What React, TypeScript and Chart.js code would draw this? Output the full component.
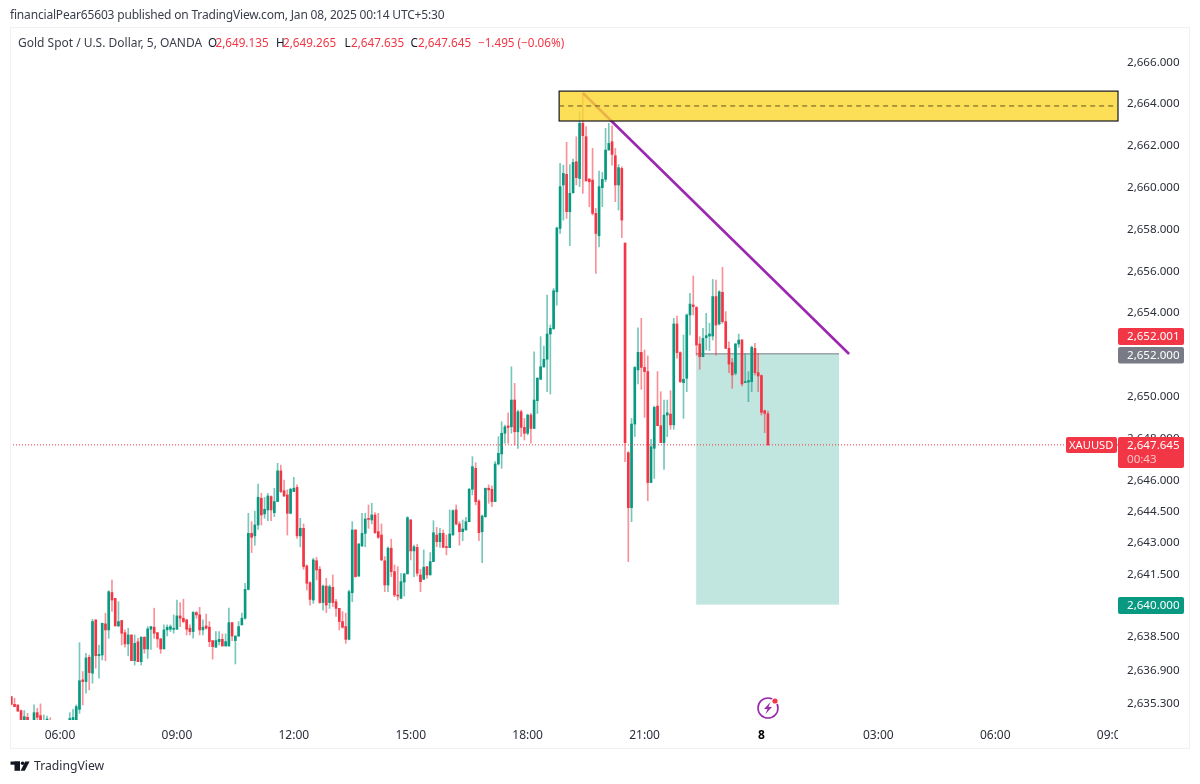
import React, { useEffect, useRef } from "react";
import { Chart, registerables } from "chart.js";

Chart.register(...registerables);

const FONT = '"Noto Sans", sans-serif';
const firstIndex = -15;
const timeTicks = [0, 36, 72, 108, 144, 180, 216, 252, 288, 324];
const timeLabels = ["06:00", "09:00", "12:00", "15:00", "18:00", "21:00", "8", "03:00", "06:00", "09:00"];
const priceTicks = [2666, 2664, 2662, 2660, 2658, 2656, 2654, 2652, 2650, 2648, 2646, 2644.5, 2643, 2641.5, 2640, 2638.5, 2636.9, 2635.3];

const opens = [
  2635.60,2635.23,2635.20,2634.93,2634.35,2634.61,2634.35,2634.40,2634.83,2634.69,
  2634.35,2634.38,2634.45,2634.30,2634.20,2634.25,2634.30,2634.35,2634.40,2634.45,
  2634.40,2634.99,2636.40,2636.32,2637.48,2636.72,2639.27,2637.56,2637.59,2639.08,
  2638.79,2640.58,2640.30,2638.98,2639.24,2638.66,2638.12,2638.55,2637.32,2638.22,
  2637.27,2638.44,2637.88,2638.82,2638.92,2638.66,2638.36,2637.88,2638.79,2638.82,
  2638.82,2638.82,2639.46,2639.35,2639.27,2638.87,2638.71,2639.62,2639.51,2638.79,
  2638.98,2638.92,2638.28,2637.96,2638.23,2638.34,2638.02,2638.02,2639.14,2638.28,
  2638.50,2639.03,2639.35,2640.73,2643.41,2643.29,2643.81,2645.09,2644.34,2644.53,
  2645.17,2644.40,2644.93,2646.40,2645.45,2645.25,2644.37,2645.41,2645.61,2643.29,
  2643.65,2641.85,2641.05,2640.22,2642.10,2641.69,2640.10,2640.89,2640.10,2640.83,
  2640.14,2639.82,2639.19,2638.95,2638.34,2640.57,2643.57,2641.37,2642.81,2643.41,
  2644.13,2644.05,2644.29,2643.49,2643.33,2642.10,2640.94,2642.70,2641.58,2640.46,
  2640.30,2641.08,2641.47,2644.05,2642.57,2642.74,2641.42,2641.21,2641.82,2641.42,
  2642.06,2643.33,2643.01,2643.41,2642.77,2642.73,2643.33,2644.53,2643.86,2643.49,
  2643.57,2643.97,2645.52,2646.52,2644.96,2643.49,2644.21,2645.57,2645.52,2644.93,
  2646.73,2647.21,2648.20,2648.55,2648.51,2649.79,2648.27,2649.23,2648.48,2648.20,
  2649.07,2648.43,2649.76,2650.78,2651.38,2651.74,2652.95,2653.20,2654.97,2658.00,
  2660.08,2660.59,2658.80,2659.71,2661.19,2660.39,2663.03,2662.39,2660.36,2660.31,
  2658.72,2657.65,2659.95,2660.35,2661.75,2662.15,2661.48,2660.08,2660.87,2657.30,
  2647.27,2644.64,2648.64,2651.23,2652.07,2651.35,2651.15,2645.84,2647.48,2649.50,
  2648.56,2647.75,2649.07,2649.12,2648.60,2653.43,2652.06,2650.62,2650.83,2653.86,
  2654.34,2654.22,2652.47,2651.86,2652.77,2652.85,2652.85,2654.74,2653.43,2654.94,
  2653.54,2652.26,2651.58,2651.07,2652.47,2652.66,2650.62,2650.65,2650.67,2652.26,
  2651.10,2650.96,2649.28,2649.135,
];
const highs = [
  2635.60,2635.52,2635.20,2634.96,2634.93,2634.80,2634.42,2635.20,2635.04,2635.25,
  2634.72,2634.67,2634.59,2634.42,2634.38,2634.40,2634.44,2634.46,2634.83,2634.99,
  2635.20,2638.18,2636.80,2637.67,2637.59,2639.30,2639.27,2638.07,2639.11,2639.59,
  2640.67,2641.18,2640.30,2640.14,2639.24,2638.79,2638.87,2638.55,2638.55,2638.39,
  2638.47,2638.47,2638.95,2638.95,2639.83,2638.66,2638.39,2639.03,2639.03,2639.03,
  2639.51,2640.22,2640.10,2640.26,2639.30,2639.03,2639.67,2639.67,2639.87,2639.27,
  2639.55,2639.19,2638.28,2638.71,2638.71,2638.60,2638.60,2639.83,2639.14,2638.50,
  2639.19,2639.59,2641.02,2644.37,2643.97,2644.48,2645.77,2645.33,2645.13,2645.33,
  2645.20,2645.57,2646.76,2646.68,2645.96,2645.49,2645.57,2646.09,2645.73,2644.13,
  2643.86,2641.90,2641.10,2642.22,2642.26,2641.82,2640.94,2641.26,2640.94,2641.42,
  2640.25,2639.82,2639.67,2639.59,2640.70,2643.97,2643.60,2642.93,2644.37,2644.37,
  2644.77,2644.85,2644.40,2644.37,2643.86,2642.30,2642.77,2643.13,2641.90,2641.82,
  2641.50,2641.50,2644.21,2644.08,2642.85,2642.89,2641.69,2642.62,2641.82,2642.49,
  2644.02,2643.70,2643.65,2643.57,2643.33,2644.53,2644.53,2644.77,2643.97,2644.05,
  2644.18,2645.57,2647.08,2646.79,2645.01,2644.29,2645.57,2645.73,2645.68,2646.84,
  2648.04,2648.75,2648.59,2649.18,2651.38,2650.59,2649.31,2649.31,2648.91,2649.12,
  2649.15,2652.10,2650.87,2652.82,2652.37,2654.81,2653.38,2655.13,2658.06,2661.11,
  2661.03,2662.12,2661.06,2661.32,2662.39,2663.58,2664.46,2662.87,2660.39,2661.83,
  2658.96,2660.75,2660.68,2662.79,2663.03,2662.91,2661.83,2661.06,2660.95,2657.30,
  2647.32,2648.91,2651.39,2653.25,2653.70,2652.18,2651.90,2647.91,2649.50,2651.15,
  2650.19,2649.79,2649.79,2650.24,2653.70,2653.81,2652.10,2652.90,2653.91,2654.90,
  2655.72,2654.26,2652.82,2653.22,2653.94,2653.46,2655.56,2655.53,2655.02,2656.14,
  2654.02,2652.58,2651.78,2652.50,2652.95,2652.69,2652.00,2651.15,2652.38,2652.50,
  2652.02,2650.99,2649.31,2649.265,
];
const lows = [
  2635.20,2635.12,2634.88,2634.30,2634.25,2634.30,2634.10,2634.30,2634.40,2634.30,
  2634.25,2634.20,2634.20,2634.00,2634.00,2634.05,2634.10,2634.15,2634.30,2634.30,
  2634.30,2634.80,2635.20,2635.76,2635.92,2636.24,2636.96,2636.48,2637.35,2637.32,
  2638.39,2639.67,2638.98,2638.95,2638.07,2637.96,2637.55,2637.32,2637.11,2637.27,
  2637.11,2637.67,2637.43,2637.86,2638.39,2637.96,2637.67,2637.88,2638.50,2638.71,
  2638.63,2638.82,2638.95,2639.14,2638.55,2638.55,2638.39,2639.35,2638.55,2638.55,
  2638.82,2637.99,2637.39,2637.96,2638.07,2638.02,2638.02,2638.02,2638.28,2637.16,
  2638.47,2639.03,2639.30,2640.70,2642.49,2642.85,2643.60,2643.81,2644.13,2644.02,
  2644.02,2644.21,2644.93,2645.36,2645.17,2643.33,2644.34,2645.41,2643.17,2642.77,
  2641.69,2640.70,2639.98,2640.06,2641.18,2640.06,2639.74,2639.62,2639.82,2639.90,
  2639.43,2638.79,2638.87,2638.15,2638.31,2640.14,2641.31,2641.34,2642.77,2642.77,
  2643.65,2643.86,2643.41,2643.17,2642.10,2640.62,2640.62,2641.34,2640.38,2640.22,
  2640.30,2640.41,2641.47,2642.14,2641.34,2641.37,2640.62,2641.21,2641.26,2641.42,
  2642.06,2642.77,2642.74,2642.74,2642.38,2642.73,2643.33,2643.81,2642.85,2643.06,
  2643.57,2643.97,2645.25,2644.77,2643.06,2642.01,2644.18,2644.85,2644.69,2644.93,
  2646.68,2646.52,2647.72,2647.72,2648.20,2647.64,2647.48,2648.04,2647.88,2648.12,
  2647.72,2648.43,2649.15,2650.78,2651.35,2650.19,2650.08,2653.17,2654.33,2657.76,
  2658.40,2658.48,2657.17,2659.68,2660.08,2660.00,2659.68,2660.27,2659.04,2658.64,
  2655.85,2657.12,2659.04,2660.23,2661.75,2661.03,2659.28,2658.88,2657.56,2646.84,
  2642.06,2643.97,2648.04,2650.56,2650.30,2648.96,2644.97,2645.84,2646.04,2648.56,
  2647.75,2646.47,2648.04,2648.39,2648.39,2651.79,2650.62,2648.91,2650.19,2652.90,
  2653.86,2651.94,2651.26,2651.86,2652.18,2652.15,2652.66,2651.94,2653.38,2653.46,
  2652.26,2651.10,2650.35,2650.99,2652.31,2650.46,2650.62,2649.71,2650.19,2650.99,
  2650.19,2649.07,2648.23,2647.635,
];
const closes = [
  2635.23,2635.12,2634.91,2634.40,2634.64,2634.40,2634.25,2634.83,2634.61,2634.40,
  2634.45,2634.42,2634.35,2634.20,2634.25,2634.30,2634.35,2634.30,2634.55,2634.60,
  2635.12,2636.36,2636.32,2637.45,2636.75,2639.19,2637.56,2637.62,2639.11,2638.79,
  2640.62,2640.22,2638.98,2639.19,2638.63,2638.12,2638.55,2637.32,2638.15,2637.27,
  2638.44,2637.88,2638.84,2638.95,2638.63,2638.36,2637.88,2638.79,2638.92,2638.95,
  2638.87,2639.46,2639.35,2639.19,2638.82,2638.71,2639.63,2639.51,2638.79,2638.92,
  2638.87,2638.23,2637.99,2638.28,2638.34,2638.02,2638.23,2639.14,2638.50,2638.50,
  2638.95,2639.35,2640.73,2643.41,2643.22,2643.81,2645.14,2644.29,2644.56,2645.20,
  2644.53,2644.93,2646.40,2645.41,2645.20,2644.37,2645.52,2645.57,2643.29,2643.65,
  2641.82,2641.02,2640.25,2642.14,2641.66,2640.10,2640.89,2639.98,2640.86,2640.10,
  2639.82,2639.19,2638.92,2638.34,2640.62,2643.57,2641.34,2642.90,2643.41,2644.10,
  2644.08,2644.29,2643.44,2643.22,2642.14,2640.94,2642.70,2641.58,2640.46,2640.41,
  2641.10,2641.47,2644.16,2642.57,2642.77,2641.50,2641.10,2641.79,2641.42,2642.06,
  2643.44,2643.01,2643.41,2642.74,2642.73,2643.38,2644.50,2643.86,2643.49,2643.62,
  2643.97,2645.52,2646.60,2644.93,2643.44,2644.24,2645.57,2645.49,2644.93,2646.73,
  2647.24,2648.20,2648.51,2648.48,2649.79,2648.27,2649.23,2648.48,2648.20,2649.07,
  2648.43,2649.79,2650.83,2651.38,2651.74,2652.95,2653.22,2655.02,2658.02,2660.00,
  2660.63,2658.80,2659.68,2661.16,2660.43,2663.03,2662.44,2660.27,2660.23,2658.72,
  2657.76,2660.00,2660.35,2661.75,2662.07,2661.54,2660.08,2660.91,2658.40,2647.75,
  2644.64,2648.64,2651.35,2652.07,2651.35,2651.15,2645.84,2647.56,2649.44,2648.56,
  2647.75,2649.07,2649.18,2648.60,2653.43,2652.06,2650.67,2650.78,2653.86,2654.38,
  2654.26,2652.42,2651.86,2652.74,2652.87,2652.95,2654.74,2653.38,2654.97,2653.54,
  2652.26,2651.51,2650.99,2652.47,2652.66,2650.56,2650.67,2650.72,2652.31,2651.10,
  2650.94,2649.20,2649.15,2647.645,
];

const trendX = [161, 243];
const trendY = [2664.48, 2651.99];
const zoneLeft = 153.7;
const zoneTop = 2664.57;
const zoneBottom = 2663.14;
const zoneMid = 2663.86;
const targetLeft = 195.9;
const targetRight = 239.9;
const entryPrice = 2652;
const targetPrice = 2640;
const lastPrice = 2647.645;

const RED = "#f23645";
const GREEN = "#089981";
const INK = "#131722";

const fmt = (v: number) =>
  v.toLocaleString("en-US", { minimumFractionDigits: 3, maximumFractionDigits: 3 });

function badge(ctx: any, x: number, y: number, w: number, h: number, fill: string) {
  ctx.fillStyle = fill;
  ctx.beginPath();
  ctx.roundRect(x, y, w, h, 2);
  ctx.fill();
}

const artwork = {
  id: "artwork",
  beforeDatasetsDraw(chart: any) {
    const { ctx, scales } = chart;
    const { x, y } = scales;
    ctx.save();
    const l = x.getPixelForValue(targetLeft);
    const r = x.getPixelForValue(targetRight);
    const t = y.getPixelForValue(entryPrice);
    const b = y.getPixelForValue(targetPrice);
    ctx.fillStyle = "rgba(8,153,129,0.25)";
    ctx.fillRect(l, t, r - l, b - t);
    ctx.strokeStyle = "#787b86";
    ctx.lineWidth = 1;
    ctx.beginPath();
    ctx.moveTo(l, t);
    ctx.lineTo(r, t);
    ctx.stroke();
    ctx.restore();
  },
  afterDatasetsDraw(chart: any) {
    const { ctx, scales, chartArea } = chart;
    const { x, y } = scales;
    ctx.save();
    const l = x.getPixelForValue(zoneLeft);
    const r = chartArea.right;
    const t = y.getPixelForValue(zoneTop);
    const b = y.getPixelForValue(zoneBottom);
    const m = y.getPixelForValue(zoneMid);
    ctx.fillStyle = "rgba(253,215,45,0.8)";
    ctx.fillRect(l, t, r - l, b - t);
    ctx.strokeStyle = "#131722";
    ctx.lineWidth = 1.2;
    ctx.strokeRect(l, t, r - l, b - t);
    ctx.lineWidth = 1;
    ctx.setLineDash([5, 4]);
    ctx.strokeStyle = "#5d5326";
    ctx.beginPath();
    ctx.moveTo(l, m);
    ctx.lineTo(r, m);
    ctx.stroke();
    const p = y.getPixelForValue(lastPrice);
    ctx.setLineDash([1, 2]);
    ctx.strokeStyle = RED;
    ctx.beginPath();
    ctx.moveTo(chartArea.left, p);
    ctx.lineTo(r, p);
    ctx.stroke();
    ctx.restore();
  },
  afterDraw(chart: any) {
    const { ctx, chartArea } = chart;
    ctx.save();
    // clip the last time label at the price axis
    ctx.fillStyle = "#ffffff";
    ctx.fillRect(chartArea.right, 724, 60, 20);

    ctx.strokeStyle = "#f0f1f5";
    ctx.lineWidth = 1;
    ctx.strokeRect(10.5, 27.5, 1179, 721);

    ctx.textBaseline = "middle";
    ctx.textAlign = "left";
    ctx.font = `12px ${FONT}`;
    ctx.fillStyle = "#3a3e4b";
    ctx.letterSpacing = "-0.18px";
    ctx.fillText("financialPear65603 published on TradingView.com, Jan 08, 2025 00:14 UTC+5:30", 10, 16);
    ctx.letterSpacing = "0px";

    ctx.fillStyle = "#3a3e4b";
    ctx.fillText("Gold Spot / U.S. Dollar, 5, OANDA", 18, 44);
    const legend: [string, number, string][] = [
      ["O", 208, INK], ["2,649.135", 215.5, RED],
      ["H", 276, INK], ["2,649.265", 283, RED],
      ["L", 344.5, INK], ["2,647.635", 351, RED],
      ["C", 410.5, INK], ["2,647.645", 418, RED],
      ["\u22121.495 (\u22120.06%)", 478, RED],
    ];
    ctx.font = `11.7px ${FONT}`;
    legend.forEach(([s, px, c]) => {
      ctx.fillStyle = c;
      ctx.fillText(s, px, 44);
    });

    const boxX = 1118;
    const boxW = 66;
    badge(ctx, boxX, 328, boxW, 17, RED);
    badge(ctx, boxX, 347, boxW, 16.5, "#787b86");
    badge(ctx, boxX, 597, boxW, 17, GREEN);
    badge(ctx, boxX, 437, boxW, 31, RED);
    badge(ctx, 1066, 437, 51, 16, RED);
    ctx.fillStyle = "#ffffff";
    ctx.font = `11.6px ${FONT}`;
    ctx.fillText(fmt(2652.001), 1127, 337);
    ctx.fillText(fmt(2652.0), 1127, 355.5);
    ctx.fillText(fmt(2640.0), 1127, 606);
    ctx.fillText(fmt(lastPrice), 1127, 445.5);
    ctx.font = `11.2px ${FONT}`;
    ctx.fillText("XAUUSD", 1069, 445.5);
    ctx.font = `11.6px ${FONT}`;
    ctx.fillStyle = "rgba(255,255,255,0.7)";
    ctx.fillText("00:43", 1127, 459.5);

    // energy badge
    ctx.strokeStyle = "#9c27b0";
    ctx.lineWidth = 1.6;
    ctx.beginPath();
    ctx.arc(768, 708, 10, 0, Math.PI * 2);
    ctx.stroke();
    ctx.fillStyle = "#9c27b0";
    ctx.beginPath();
    ctx.moveTo(770.5, 702);
    ctx.lineTo(764, 709);
    ctx.lineTo(767.5, 709);
    ctx.lineTo(765.5, 714);
    ctx.lineTo(772, 707);
    ctx.lineTo(768.5, 707);
    ctx.closePath();
    ctx.fill();
    ctx.fillStyle = "#ffffff";
    ctx.beginPath();
    ctx.arc(775, 701, 3.6, 0, Math.PI * 2);
    ctx.fill();
    ctx.fillStyle = RED;
    ctx.beginPath();
    ctx.arc(775, 701, 2.6, 0, Math.PI * 2);
    ctx.fill();

    // footer brand
    ctx.fillStyle = INK;
    ctx.fillRect(10.5, 761.5, 9.5, 3.2);
    ctx.fillRect(14.5, 761.5, 5.5, 9.3);
    ctx.beginPath();
    ctx.arc(22.6, 763.3, 1.8, 0, Math.PI * 2);
    ctx.fill();
    ctx.beginPath();
    ctx.moveTo(25.2, 761.5);
    ctx.lineTo(29.6, 761.5);
    ctx.lineTo(24.8, 770.8);
    ctx.lineTo(20.6, 770.8);
    ctx.closePath();
    ctx.fill();
    ctx.fillStyle = "#2a2e39";
    ctx.font = `12.2px ${FONT}`;
    ctx.fillText("TradingView", 34, 767);
    ctx.restore();
  },
};

export default function App() {
  const ref = useRef<HTMLCanvasElement>(null);
  useEffect(() => {
    const xs = opens.map((_, n) => firstIndex + n);
    const up = (n: number) => closes[n] >= opens[n];
    const chart = new Chart(ref.current as HTMLCanvasElement, {
      type: "bar",
      data: {
        datasets: [
          {
            type: "line",
            label: "Trend",
            data: trendX.map((v, n) => ({ x: v, y: trendY[n] })),
            borderColor: "#9c27b0",
            borderWidth: 2.6,
            pointRadius: 0,
            order: 1,
          },
          {
            label: "Body",
            data: xs.map((v, n) => ({ x: v, y: [opens[n], closes[n]] })),
            backgroundColor: xs.map((_, n) => (up(n) ? GREEN : RED)),
            barThickness: 2,
            minBarLength: 1,
            grouped: false,
            order: 2,
          },
          {
            label: "Wick",
            data: xs.map((v, n) => ({ x: v, y: [lows[n], highs[n]] })),
            backgroundColor: xs.map((_, n) => (up(n) ? "rgba(8,153,129,0.55)" : "rgba(242,54,69,0.55)")),
            barThickness: 1,
            grouped: false,
            order: 3,
          },
        ],
      } as any,
      options: {
        animation: false,
        responsive: false,
        layout: { padding: { left: 10, top: 28, right: 0, bottom: 0 } },
        plugins: { legend: { display: false }, tooltip: { enabled: false } },
        scales: {
          x: {
            type: "linear",
            min: -15.4,
            max: 325.8,
            offset: false,
            grid: { display: false, drawTicks: false },
            border: { display: false },
            afterFit: (s: any) => {
              s.height = 64;
            },
            afterBuildTicks: (s: any) => {
              s.ticks = timeTicks.map((value) => ({ value }));
            },
            ticks: {
              autoSkip: false,
              maxRotation: 0,
              padding: 8,
              color: (c: any) => (c.tick?.value === 216 ? "#000000" : "#2a2e39"),
              font: (c: any) => ({
                family: FONT,
                size: 12,
                weight: c.tick?.value === 216 ? "bold" : "normal",
              }),
              callback: (v: any) => timeLabels[timeTicks.indexOf(Number(v))] ?? "",
            },
          },
          y: {
            type: "linear",
            position: "right",
            min: 2634.48,
            max: 2667.59,
            grid: { display: false, drawTicks: false },
            border: { display: false },
            afterFit: (s: any) => {
              s.width = 82;
            },
            afterBuildTicks: (s: any) => {
              s.ticks = priceTicks.map((value) => ({ value }));
            },
            ticks: {
              autoSkip: false,
              padding: 9,
              labelOffset: 1,
              color: "#2a2e39",
              font: { family: FONT, size: 11.6 },
              callback: (v: any) => fmt(Number(v)),
            },
          },
        },
      } as any,
      plugins: [artwork],
    });
    return () => chart.destroy();
  }, []);
  return (
    <canvas
      ref={ref}
      width={1200}
      height={784}
      style={{ position: "fixed", left: 0, top: 0, display: "block", background: "#ffffff" }}
    />
  );
}
